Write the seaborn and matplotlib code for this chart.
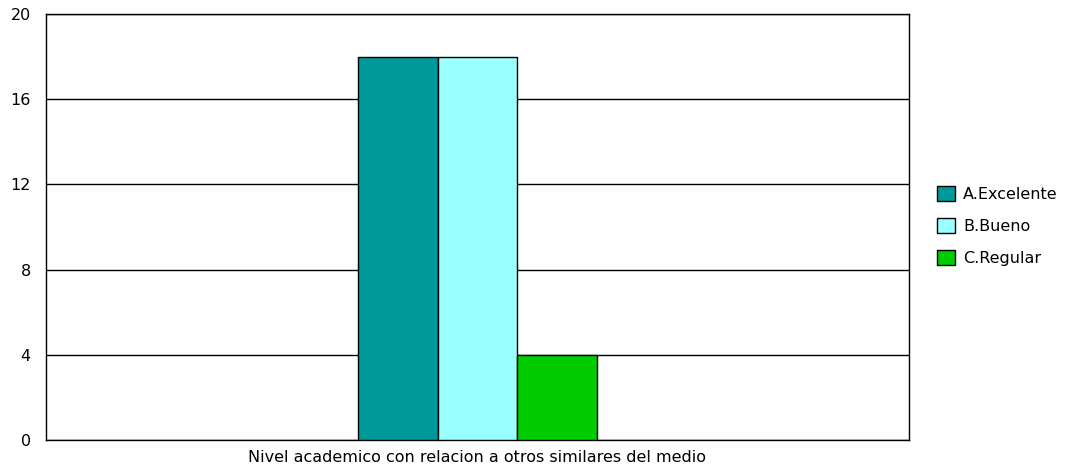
import matplotlib
matplotlib.use("Agg")
import matplotlib.pyplot as plt
import seaborn as sns
import pandas as pd
from matplotlib.patches import Patch

categories = ["A.Excelente", "B.Bueno", "C.Regular"]
values = [18, 18, 4]
colors = ["#009999", "#99FFFF", "#00CC00"]
group = ["Nivel academico con relacion a otros similares del medio"] * 3
yticks = [0, 4, 8, 12, 16, 20]

sns.set_theme(style="white")
plt.rcParams['font.family'] = ['DejaVu Sans']
plt.rcParams['text.color'] = 'black'
plt.rcParams['axes.labelcolor'] = 'black'
plt.rcParams['ytick.color'] = 'black'
plt.rcParams['xtick.color'] = 'black'

df = pd.DataFrame({"grupo": group, "cat": categories, "val": values})

fig = plt.figure(figsize=(10.69, 4.73), dpi=100)
ax = fig.add_axes([46/1069, 1 - 440/473, (909-46)/1069, (440-14)/473])

sns.barplot(data=df, x="grupo", y="val", hue="cat", palette=colors,
            width=0.278, dodge=True, edgecolor="black", linewidth=1.0,
            saturation=1, ax=ax, legend=False, zorder=3)

ax.set_xlim(-0.5, 0.5)
ax.set_ylim(0, 20)
ax.set_yticks(yticks)
ax.set_yticklabels([str(t) for t in yticks], fontsize=11.5, color="black")
ax.yaxis.grid(True, color="black", linewidth=1.0, zorder=0)
ax.set_axisbelow(True)
ax.tick_params(axis="y", length=0, pad=11)
ax.tick_params(axis="x", length=0)
ax.set_xticks([])
ax.set_ylabel("")
ax.set_xlabel(group[0], fontsize=11.5, labelpad=7, color="black")
for s in ax.spines.values():
    s.set_color("black")
    s.set_linewidth(1.0)

handles = [Patch(facecolor=c, edgecolor="black", linewidth=1.0, label=l)
           for c, l in zip(colors, categories)]
leg = fig.legend(handles=handles, loc="center left", bbox_to_anchor=(923/1069, 1 - 226/473),
                 frameon=False, fontsize=11.5, handlelength=1.1, handleheight=1.1,
                 handletextpad=0.5, labelspacing=1.0)
for t in leg.get_texts():
    t.set_color("black")

fig.savefig("out.png", dpi=100)
